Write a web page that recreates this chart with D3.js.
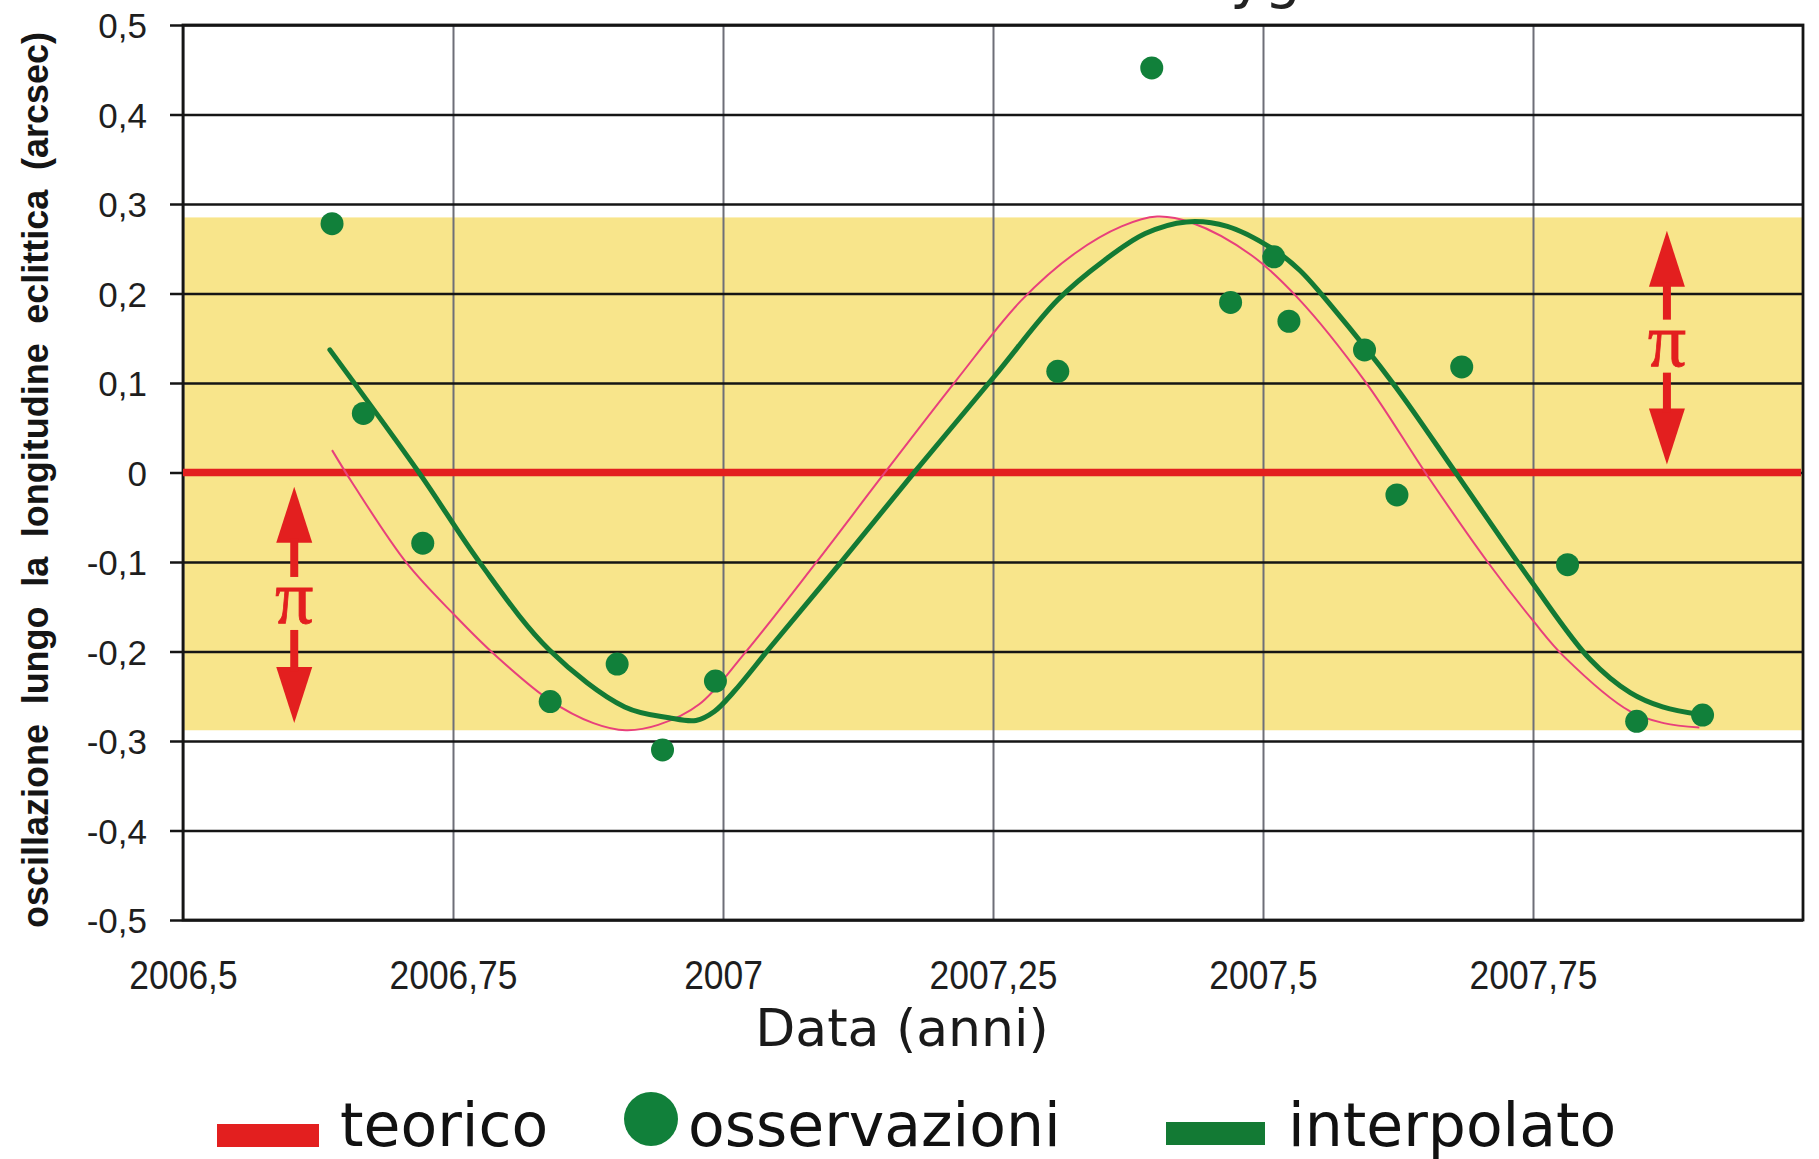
<!DOCTYPE html>
<html>
<head>
<meta charset="utf-8">
<script src="https://cdn.jsdelivr.net/npm/d3@7"></script>
<style>
  html, body { margin: 0; padding: 0; background: #ffffff; }
  svg { display: block; }
</style>
</head>
<body>
<svg id="chart" width="1819" height="1159"></svg>
<script>
// Observed oscillation along ecliptic longitude (arcsec) by date (years)
const obsYear  = [2006.638, 2006.667, 2006.722, 2006.840, 2006.902, 2006.944, 2006.993,
                  2007.310, 2007.397, 2007.470, 2007.510, 2007.524, 2007.594, 2007.624,
                  2007.684, 2007.782, 2007.846, 2007.907];
const obsValue = [0.278, 0.066, -0.079, -0.256, -0.214, -0.310, -0.233,
                  0.113, 0.452, 0.190, 0.241, 0.169, 0.137, -0.025,
                  0.118, -0.103, -0.278, -0.271];

// Fitted ("interpolato") curve
const fitYear  = [2006.636, 2006.719, 2006.775, 2006.839, 2006.909, 2006.950, 2006.975,
                  2006.992, 2007.010, 2007.044, 2007.108, 2007.175, 2007.251, 2007.310,
                  2007.353, 2007.391, 2007.429, 2007.467, 2007.510, 2007.534, 2007.564,
                  2007.622, 2007.680, 2007.748, 2007.803, 2007.840, 2007.870, 2007.907];
const fitValue = [0.137, -0.001, -0.101, -0.198, -0.262, -0.274, -0.277,
                  -0.267, -0.245, -0.195, -0.102, -0.003, 0.107, 0.193,
                  0.237, 0.267, 0.280, 0.275, 0.249, 0.226, 0.185,
                  0.097, -0.003, -0.121, -0.209, -0.246, -0.262, -0.271];

// Theoretical curve
const theoryYear  = [2006.638, 2006.657, 2006.707, 2006.752, 2006.789, 2006.839, 2006.880,
                     2006.910, 2006.940, 2006.978, 2007.020, 2007.086, 2007.148, 2007.216,
                     2007.276, 2007.326, 2007.369, 2007.402, 2007.434, 2007.489, 2007.533,
                     2007.595, 2007.653, 2007.708, 2007.751, 2007.779, 2007.840, 2007.871,
                     2007.904];
const theoryValue = [0.025, -0.012, -0.101, -0.160, -0.204, -0.254, -0.280,
                     -0.288, -0.282, -0.259, -0.202, -0.101, -0.003, 0.103,
                     0.192, 0.245, 0.275, 0.286, 0.279, 0.243, 0.194,
                     0.101, -0.005, -0.100, -0.167, -0.206, -0.267, -0.280,
                     -0.285];

// Amplitude band and reference level
const bandTop = 0.285;
const bandBottom = -0.288;
const zeroLevel = 0;

// Double arrows marking the parallax amplitude
const arrowYear   = [2006.603, 2007.874];
const arrowTop    = [-0.016, 0.270];
const arrowBottom = [-0.280, 0.009];
const arrowLabel  = "π";

// Axes
const xTickValues = [2006.5, 2006.75, 2007, 2007.25, 2007.5, 2007.75];
const xTickLabels = ["2006,5", "2006,75", "2007", "2007,25", "2007,5", "2007,75"];
const yTickValues = [0.5, 0.4, 0.3, 0.2, 0.1, 0, -0.1, -0.2, -0.3, -0.4, -0.5];
const yTickLabels = ["0,5", "0,4", "0,3", "0,2", "0,1", "0", "-0,1", "-0,2", "-0,3", "-0,4", "-0,5"];
const xTitle = "Data (anni)";
const yTitle = "oscillazione lungo la longitudine eclittica (arcsec)";
const chartTitle = "Parallasse di 61 Cygni";

// Legend
const legendNames = ["teorico", "osservazioni", "interpolato"];

// ---- drawing ----
const RED = "#e31f1f", GREEN_DOT = "#11803a", GREEN_LINE = "#137a34",
      PINK = "#e8407c", YELLOW = "#f8e58b";

const svg = d3.select("#chart");
const plotL = 183, plotR = 1803, plotT = 25, plotB = 920;
const W = plotR - plotL, H = plotB - plotT;

const x = d3.scaleLinear().domain([2006.5, 2008]).range([plotL, plotR]);
const y = d3.scaleLinear().domain([-0.5, 0.5]).range([plotB, plotT]);

// title line, mostly above the top edge
svg.append("text")
  .attr("x", 1354).attr("y", -3)
  .attr("text-anchor", "end")
  .attr("font-family", "DejaVu Sans").attr("font-size", 58)
  .attr("fill", "#222")
  .text(chartTitle);

// yellow amplitude band
svg.append("rect")
  .attr("x", plotL).attr("width", W)
  .attr("y", y(bandTop)).attr("height", y(bandBottom) - y(bandTop))
  .attr("fill", YELLOW);

// vertical grid + x tick labels
const xAxis = d3.axisBottom(x)
  .tickValues(xTickValues)
  .tickFormat((d, i) => xTickLabels[i])
  .tickSize(-H).tickPadding(0);
const gx = svg.append("g").attr("transform", `translate(0,${plotB})`).call(xAxis);
gx.select(".domain").remove();
gx.selectAll(".tick line").attr("stroke", "#6e6f78").attr("stroke-width", 2);
gx.selectAll(".tick text")
  .attr("y", 69).attr("dy", 0)
  .attr("transform", "scale(0.885,1)")
  .attr("font-family", "Liberation Sans, Arial, sans-serif")
  .attr("font-size", 40).attr("fill", "#1e1e1e");

// horizontal grid + y tick labels
const yAxis = d3.axisLeft(y)
  .tickValues(yTickValues)
  .tickFormat((d, i) => yTickLabels[i])
  .tickSize(0);
const gy = svg.append("g").attr("transform", `translate(${plotL},0)`).call(yAxis);
gy.select(".domain").remove();
gy.selectAll(".tick line")
  .attr("x1", -13).attr("x2", W)
  .attr("stroke", "#151515").attr("stroke-width", 2.6);
gy.selectAll(".tick text")
  .attr("x", -36).attr("dy", "0.36em")
  .attr("font-family", "Liberation Sans, Arial, sans-serif")
  .attr("font-size", 35).attr("fill", "#1e1e1e");

// plot frame
svg.append("rect")
  .attr("x", plotL).attr("y", plotT).attr("width", W).attr("height", H)
  .attr("fill", "none").attr("stroke", "#151515").attr("stroke-width", 2.8);

// zero reference line
svg.append("line")
  .attr("x1", plotL).attr("x2", plotR - 2)
  .attr("y1", y(zeroLevel)).attr("y2", y(zeroLevel))
  .attr("stroke", RED).attr("stroke-width", 7.5);

// curves
const line = d3.line().x(d => x(d[0])).y(d => y(d[1])).curve(d3.curveCatmullRom.alpha(0.5));
svg.append("path")
  .datum(theoryYear.map((t, i) => [t, theoryValue[i]]))
  .attr("d", line).attr("fill", "none")
  .attr("stroke", PINK).attr("stroke-width", 2);
svg.append("path")
  .datum(fitYear.map((t, i) => [t, fitValue[i]]))
  .attr("d", line).attr("fill", "none")
  .attr("stroke", GREEN_LINE).attr("stroke-width", 5)
  .attr("stroke-linejoin", "round").attr("stroke-linecap", "round");

// observations
svg.append("g").selectAll("circle")
  .data(obsYear.map((t, i) => [t, obsValue[i]]))
  .join("circle")
  .attr("cx", d => x(d[0])).attr("cy", d => y(d[1]))
  .attr("r", 11.5).attr("fill", GREEN_DOT);

// π double arrows
const arrows = svg.append("g");
arrowYear.forEach((yr, i) => {
  const X = x(yr), yT = y(arrowTop[i]), yB = y(arrowBottom[i]);
  const mid = (yT + yB) / 2;
  const hl = 56, hw = 18;
  arrows.append("path")
    .attr("d", `M${X},${yT} L${X - hw},${yT + hl} L${X + hw},${yT + hl} Z`)
    .attr("fill", RED);
  arrows.append("path")
    .attr("d", `M${X},${yB} L${X - hw},${yB - hl} L${X + hw},${yB - hl} Z`)
    .attr("fill", RED);
  arrows.append("line")
    .attr("x1", X).attr("x2", X).attr("y1", yT + hl - 4).attr("y2", mid - 28)
    .attr("stroke", RED).attr("stroke-width", 8);
  arrows.append("line")
    .attr("x1", X).attr("x2", X).attr("y1", mid + 25).attr("y2", yB - hl + 4)
    .attr("stroke", RED).attr("stroke-width", 8);
  arrows.append("text")
    .attr("x", X).attr("y", mid + 18)
    .attr("text-anchor", "middle")
    .attr("font-family", "Liberation Serif, Times New Roman, serif")
    .attr("font-size", 76).attr("fill", RED)
    .attr("stroke", RED).attr("stroke-width", 0.8)
    .text(arrowLabel);
});

// axis titles
svg.append("text")
  .attr("x", 902).attr("y", 1046)
  .attr("text-anchor", "middle")
  .attr("font-family", "DejaVu Sans").attr("font-size", 52)
  .attr("fill", "#1a1a1a")
  .text(xTitle);

const yt = svg.append("text")
  .attr("text-anchor", "middle")
  .attr("font-family", "Liberation Sans, Arial, sans-serif")
  .attr("font-weight", "bold").attr("font-size", 36)
  .attr("fill", "#151515")
  .attr("transform", "translate(48,480) rotate(-90)")
  .text(yTitle);
{
  const natural = yt.node().getComputedTextLength();
  const gaps = yTitle.split(" ").length - 1;
  yt.attr("word-spacing", Math.max(0, (896 - natural) / gaps));
}

// legend
const lg = svg.append("g");
lg.append("rect").attr("x", 217).attr("y", 1124).attr("width", 102).attr("height", 23).attr("fill", RED);
lg.append("text").attr("x", 340).attr("y", 1146)
  .attr("font-family", "DejaVu Sans").attr("font-size", 60).attr("fill", "#111")
  .text(legendNames[0]);
lg.append("circle").attr("cx", 651).attr("cy", 1119).attr("r", 27).attr("fill", GREEN_DOT);
lg.append("text").attr("x", 688).attr("y", 1146)
  .attr("font-family", "DejaVu Sans").attr("font-size", 60).attr("fill", "#111")
  .text(legendNames[1]);
lg.append("rect").attr("x", 1166).attr("y", 1122).attr("width", 99).attr("height", 23).attr("fill", GREEN_LINE);
lg.append("text").attr("x", 1288).attr("y", 1146)
  .attr("font-family", "DejaVu Sans").attr("font-size", 60).attr("fill", "#111")
  .text(legendNames[2]);
</script>
</body>
</html>
